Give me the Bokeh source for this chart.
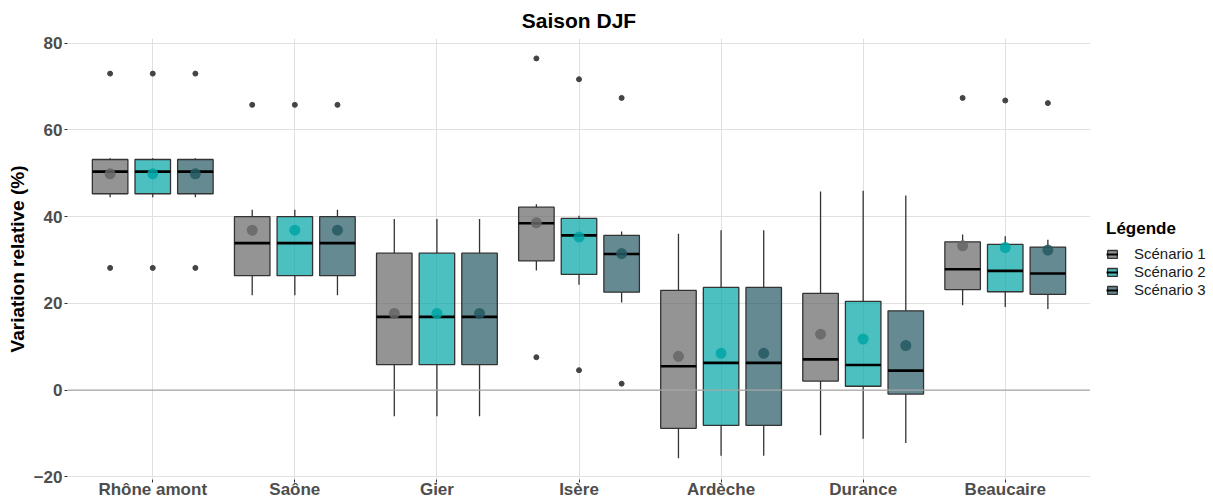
from bokeh.plotting import figure
from bokeh.layouts import row
from bokeh.models import Range1d, FixedTicker, ColumnDataSource, Legend, LegendItem, Span
from bokeh.transform import dodge
from bokeh.embed import file_html
from bokeh.resources import INLINE

categories = ["Rhône amont", "Saône", "Gier", "Isère", "Ardèche", "Durance", "Beaucaire"]
scenarios = ["Scénario 1", "Scénario 2", "Scénario 3"]

# Scénario 1
s1_lower = [44.5, 21.9, -6.0, 27.6, -15.7, -10.4, 19.6]
s1_q1 = [45.3, 26.4, 5.9, 29.8, -8.8, 2.1, 23.2]
s1_median = [50.4, 33.9, 16.9, 38.5, 5.5, 7.1, 27.9]
s1_q3 = [53.2, 40.0, 31.6, 42.2, 23.0, 22.3, 34.2]
s1_upper = [53.5, 41.6, 39.5, 42.9, 36.1, 45.8, 35.9]
s1_mean = [49.9, 36.9, 17.7, 38.6, 7.8, 12.9, 33.3]
s1_outliers = [[73.0, 28.2], [65.8], [], [76.5, 7.6], [], [], [67.4]]

# Scénario 2
s2_lower = [44.5, 21.9, -6.0, 24.3, -15.1, -11.2, 19.2]
s2_q1 = [45.3, 26.4, 5.9, 26.7, -8.1, 0.9, 22.7]
s2_median = [50.4, 33.9, 16.9, 35.7, 6.3, 5.8, 27.5]
s2_q3 = [53.2, 40.0, 31.6, 39.6, 23.7, 20.5, 33.6]
s2_upper = [53.5, 41.6, 39.5, 40.2, 36.9, 46.0, 35.5]
s2_mean = [49.9, 36.9, 17.7, 35.3, 8.5, 11.8, 32.9]
s2_outliers = [[73.0, 28.2], [65.8], [], [71.7, 4.6], [], [], [66.8]]

# Scénario 3
s3_lower = [44.5, 21.9, -6.0, 20.2, -15.1, -12.2, 18.7]
s3_q1 = [45.3, 26.4, 5.9, 22.6, -8.1, -0.9, 22.1]
s3_median = [50.4, 33.9, 16.9, 31.4, 6.3, 4.5, 26.9]
s3_q3 = [53.2, 40.0, 31.6, 35.7, 23.7, 18.3, 33.0]
s3_upper = [53.5, 41.6, 39.5, 36.6, 36.9, 44.9, 34.7]
s3_mean = [49.9, 36.9, 17.7, 31.5, 8.5, 10.3, 32.3]
s3_outliers = [[73.0, 28.2], [65.8], [], [67.4, 1.5], [], [], [66.2]]

y_ticks = [-20, 0, 20, 40, 60, 80]

series = [
    (s1_lower, s1_q1, s1_median, s1_q3, s1_upper, s1_mean, s1_outliers),
    (s2_lower, s2_q1, s2_median, s2_q3, s2_upper, s2_mean, s2_outliers),
    (s3_lower, s3_q1, s3_median, s3_q3, s3_upper, s3_mean, s3_outliers),
]
colors = ["#666666", "#00A5A5", "#245862"]
offsets = [-0.3, 0.0, 0.3]
box_w = 0.25
FONT = "Liberation Sans"

p = figure(width=1090, height=501, output_backend="svg", toolbar_location=None,
           x_range=Range1d(0.4, 7.6), y_range=Range1d(-20.6, 81.1),
           min_border_left=67, min_border_right=0, min_border_top=0,
           min_border_bottom=0, title="Saison DJF")
p.outline_line_color = None
p.background_fill_color = "white"

p.title.text_font = FONT
p.title.text_font_size = "21px"
p.title.text_font_style = "bold"
p.title.text_color = "black"
p.title.align = "center"
p.title.offset = 0
p.title.standoff = 13

# axes
xpos = list(range(1, len(categories) + 1))
p.xaxis.ticker = FixedTicker(ticks=xpos)
p.xaxis.major_label_overrides = {i + 1: c for i, c in enumerate(categories)}
p.yaxis.ticker = FixedTicker(ticks=y_ticks)
p.yaxis.major_label_overrides = {t: (str(t).replace("-", "−")) for t in y_ticks}
for ax in (p.xaxis, p.yaxis):
    ax.major_label_text_font = FONT
    ax.major_label_text_font_size = "17px"
    ax.major_label_text_font_style = "bold"
    ax.major_label_text_color = "#4D4D4D"
    ax.axis_line_color = None
    ax.major_tick_line_color = "#333333"
    ax.major_tick_in = 0
    ax.major_tick_out = 3
    ax.minor_tick_line_color = None
p.xaxis.major_label_standoff = -3
p.xaxis.major_label_text_line_height = 0.8
p.xaxis.axis_label = None
p.xaxis.axis_label_standoff = 0
p.yaxis.major_label_standoff = 2
p.yaxis.axis_label = "Variation relative (%)"
p.yaxis.axis_label_text_font = FONT
p.yaxis.axis_label_text_font_size = "19px"
p.yaxis.axis_label_text_font_style = "bold"
p.yaxis.axis_label_text_color = "black"
p.yaxis.axis_label_standoff = 3

p.xgrid.grid_line_color = "#E0E0E0"
p.ygrid.grid_line_color = "#E0E0E0"
p.xgrid.grid_line_width = 1
p.ygrid.grid_line_width = 1

p.add_layout(Span(location=0, dimension="width", line_color="#A8A8A8", line_width=1.3))

# legend-only panel on the right
p2 = figure(width=123, height=501, output_backend="svg", toolbar_location=None,
            x_range=Range1d(0, 1), y_range=Range1d(0, 1),
            min_border_left=0, min_border_right=0, min_border_top=0, min_border_bottom=0)
p2.axis.visible = False
p2.grid.visible = False
p2.outline_line_color = None

nan = float("nan")
items = []
for k, (lo, q1, med, q3, up, mn, outl) in enumerate(series):
    off = offsets[k]
    c = colors[k]
    src = ColumnDataSource(dict(x=xpos, lower=lo, q1=q1, median=med, q3=q3, upper=up, mean=mn))
    p.segment(x0=dodge("x", off), y0="lower", x1=dodge("x", off), y1="q1", source=src,
              line_color="#333333", line_width=1.3)
    p.segment(x0=dodge("x", off), y0="q3", x1=dodge("x", off), y1="upper", source=src,
              line_color="#333333", line_width=1.3)
    p.vbar(x=dodge("x", off), width=box_w, top="q3", bottom="q1", source=src,
           fill_color=c, fill_alpha=0.7, line_color="#333333", line_width=1.3)
    p.segment(x0=dodge("x", off - box_w / 2), y0="median",
              x1=dodge("x", off + box_w / 2), y1="median", source=src,
              line_color="black", line_width=2.6)
    ox = [i + 1 for i, lst in enumerate(outl) for _ in lst]
    oy = [v for lst in outl for v in lst]
    osrc = ColumnDataSource(dict(x=ox, y=oy))
    p.scatter(x=dodge("x", off), y="y", source=osrc, size=5, color="#444444")
    p.scatter(x=dodge("x", off), y="mean", source=src, size=11, fill_color=c,
              fill_alpha=0.85, line_color=None)
    # legend key glyphs (NaN placeholder: nothing is drawn, only the legend icon)
    key = ColumnDataSource(dict(x=[nan], y0=[nan], y1=[nan]))
    lb = p2.vbar(x="x", width=0.1, top="y1", bottom="y0", source=key,
                 fill_color=c, fill_alpha=0.7, line_color="#333333", line_width=1.3)
    lm = p2.segment(x0="x", y0="y0", x1="x", y1="y1", source=key,
                    line_color="black", line_width=2.0)
    items.append(LegendItem(label=scenarios[k], renderers=[lb, lm]))

legend = Legend(items=items, location=(16, 181), title="Légende",
                title_text_font=FONT, title_text_font_size="17px",
                title_text_font_style="bold", title_text_color="black",
                title_standoff=6,
                label_text_font=FONT, label_text_font_size="15px",
                label_text_color="#1A1A1A",
                glyph_width=12, glyph_height=10, label_standoff=16,
                label_height=16, spacing=1, padding=2, margin=0,
                border_line_color=None, background_fill_alpha=0)
p2.add_layout(legend)

layout = row(p, p2)
open("out.html", "w").write(file_html(layout, INLINE))
